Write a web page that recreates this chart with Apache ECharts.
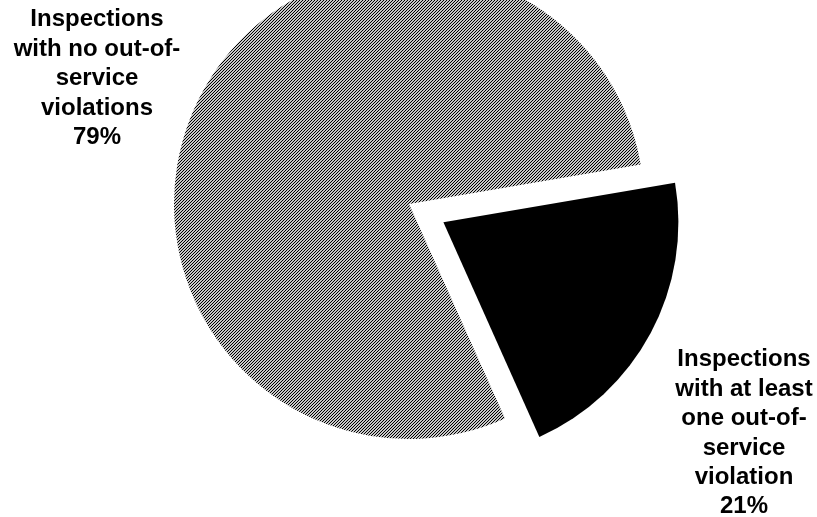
<!DOCTYPE html>
<html>
<head>
<meta charset="utf-8">
<script src="https://cdn.jsdelivr.net/npm/echarts@6/dist/echarts.min.js"></script>
<style>html,body{margin:0;padding:0;background:#fff}#c{width:817px;height:517px}</style>
</head>
<body>
<div id="c"></div>
<script>
const categories = [
  "Inspections\nwith at least\none out-of-\nservice\nviolation",
  "Inspections\nwith no out-of-\nservice\nviolations"
];
const values = [21, 79];

// diagonal hatch pattern
const pat = document.createElement('canvas');
pat.width = 3; pat.height = 3;
const pctx = pat.getContext('2d');
for (let x = 0; x < 3; x++) for (let y = 0; y < 3; y++) {
  pctx.fillStyle = ((x + y) % 3 === 2) ? '#000' : '#c8c8c8';
  pctx.fillRect(x, y, 1, 1);
}

const labelPos = [
  {x: 744, y: 345},
  {x: 97, y: 5}
];

const labelStyle = {
  fontFamily: 'Liberation Sans, Arial, sans-serif',
  fontWeight: 'bold',
  fontSize: 24,
  lineHeight: 29.4,
  fill: '#000',
  align: 'center',
  verticalAlign: 'top'
};

const chart = echarts.init(document.getElementById('c'), null, {renderer: 'canvas'});
chart.setOption({
  backgroundColor: '#fff',
  animation: false,
  graphic: categories.map((c, i) => ({
    type: 'text',
    x: labelPos[i].x,
    y: labelPos[i].y,
    z: 10,
    style: Object.assign({text: c + '\n' + values[i] + '%'}, labelStyle)
  })),
  series: [{
    type: 'pie',
    center: [409, 204],
    radius: [0, 235],
    startAngle: 9.7,
    clockwise: true,
    selectedMode: 'single',
    selectedOffset: 39,
    silent: true,
    emphasis: {scale: false},
    label: {show: false},
    labelLine: {show: false},
    data: [
      {name: categories[0], value: values[0], selected: true, itemStyle: {color: '#000'}},
      {name: categories[1], value: values[1], itemStyle: {color: {image: pat, repeat: 'repeat'}}}
    ]
  }]
});
</script>
</body>
</html>
